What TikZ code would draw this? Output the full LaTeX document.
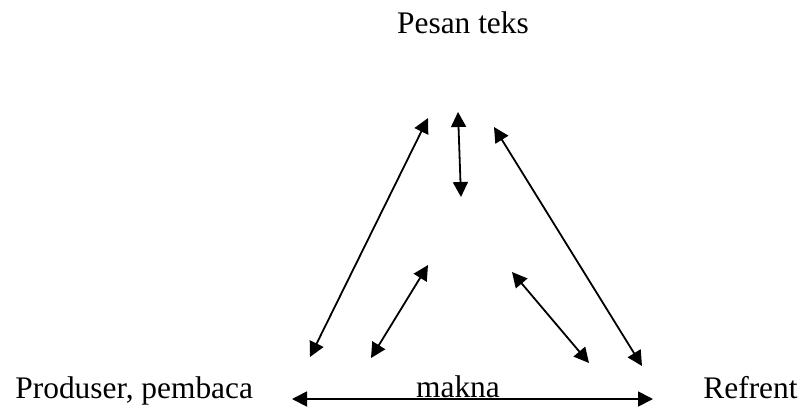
\documentclass[tikz,border=0pt]{standalone}
\usepackage{fontspec}
\setmainfont{Liberation Serif}
\usetikzlibrary{arrows.meta}
\begin{document}
\begin{tikzpicture}[x=0.5pt,y=-0.5pt,
  lbl/.style={inner sep=0pt,font=\fontsize{15.7pt}{18pt}\selectfont},
  dbl/.style={line width=0.9pt,{Triangle[length=7.5pt,width=7.5pt]}-{Triangle[length=7.5pt,width=7.5pt]}}]
\useasboundingbox (0,0) rectangle (802,408);
% labels
\node[lbl,anchor=base] (pesan) at (463,33) {Pesan teks};
\node[lbl,anchor=base west] (prod) at (15,398) {Produser, pembaca};
\node[lbl,anchor=base] (makna) at (458,397) {makna};
\node[lbl,anchor=base west] (ref) at (703,398) {Refrent};
% arrow end points
\coordinate (a1) at (310,357); \coordinate (b1) at (428,118);
\coordinate (a2) at (458,112); \coordinate (b2) at (461,197);
\coordinate (a3) at (494,127); \coordinate (b3) at (642,366);
\coordinate (a4) at (371,358); \coordinate (b4) at (428,265);
\coordinate (a5) at (512,272); \coordinate (b5) at (589,363);
\coordinate (h1) at (292,399); \coordinate (h2) at (653,399);
\draw[dbl] (a1) -- (b1);
\draw[dbl] (a2) -- (b2);
\draw[dbl] (a3) -- (b3);
\draw[dbl] (a4) -- (b4);
\draw[dbl] (a5) -- (b5);
\draw[dbl] (h1) -- (h2);
\end{tikzpicture}
\end{document}
